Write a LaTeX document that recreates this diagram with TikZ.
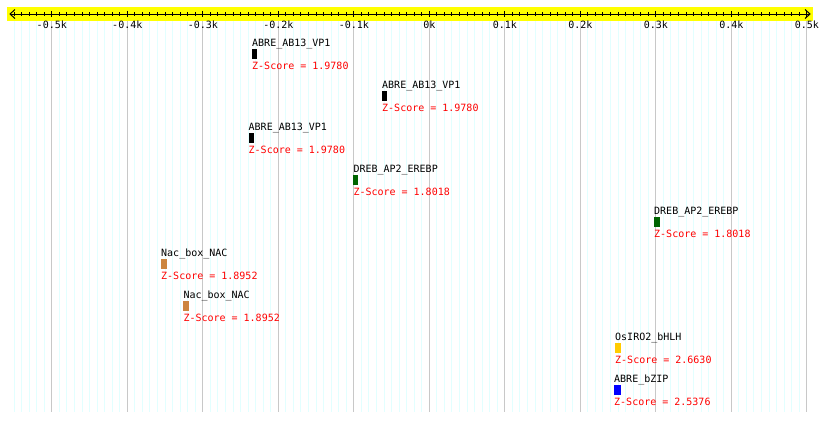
\documentclass[tikz,border=0pt]{standalone}
\usepackage{fontspec}
\setmonofont{DejaVu Sans Mono}
\definecolor{gridcyan}{RGB}{226,255,255}
\definecolor{gridgray}{RGB}{200,200,200}
\definecolor{band}{RGB}{255,255,0}
\definecolor{dgreen}{RGB}{0,100,0}
\definecolor{peru}{RGB}{205,133,63}
\definecolor{goldc}{RGB}{255,204,0}
\definecolor{zred}{RGB}{255,0,0}
\begin{document}
\begin{tikzpicture}[x=1pt,y=-1pt,
  txt/.style={inner sep=0pt,anchor=base west,font=\ttfamily\fontsize{10}{12}\selectfont},
  ticklbl/.style={inner sep=0pt,anchor=base,font=\ttfamily\fontsize{10}{12}\selectfont},
  zlbl/.style={txt,text=zred},
  axisline/.style={line width=1pt,black},
  gridminor/.style={line width=1pt,gridcyan},
  gridmajor/.style={line width=1pt,gridgray}]
\useasboundingbox[fill=white] (0,0) rectangle (820,421);
% grid
\foreach \i in {-55,...,50}{
  \pgfmathsetmacro{\gx}{429.3+7.55*\i}
  \draw[gridminor] (\gx,20.7) -- (\gx,412);
}
\foreach \i in {-5,...,5}{
  \pgfmathsetmacro{\gx}{429.3+75.5*\i}
  \draw[gridmajor] (\gx,20.7) -- (\gx,412);
}
% yellow band
\fill[band] (7,7) rectangle (813,20.7);
% axis
\coordinate (axl) at (10,14);
\coordinate (axr) at (810,14);
\draw[axisline] (axl) -- (axr);
\draw[axisline] ([shift={(5,-4.5)}]axl) -- (axl) -- ([shift={(5,4.5)}]axl);
\draw[axisline] ([shift={(-5,-4.5)}]axr) -- (axr) -- ([shift={(-5,4.5)}]axr);
\foreach \i in {-55,...,50}{
  \pgfmathsetmacro{\gx}{429.3+7.55*\i}
  \draw[axisline] (\gx,12.2) -- (\gx,15.8);
}
\foreach \i/\l in {-5/-0.5k,-4/-0.4k,-3/-0.3k,-2/-0.2k,-1/-0.1k,0/0k,1/0.1k,2/0.2k,3/0.3k,4/0.4k,5/0.5k}{
  \pgfmathsetmacro{\gx}{429.3+75.5*\i}
  \draw[axisline] (\gx,10.8) -- (\gx,17.3);
  \node[ticklbl] (tick\i) at (\gx,28) {\l};
}
% features
\foreach \k/\x/\w/\c/\name/\z in {
  0/252/4.5/black/ABRE\_AB13\_VP1/1.9780,
  1/382/5/black/ABRE\_AB13\_VP1/1.9780,
  2/248.5/5/black/ABRE\_AB13\_VP1/1.9780,
  3/353.3/4.5/dgreen/DREB\_AP2\_EREBP/1.8018,
  4/654/6/dgreen/DREB\_AP2\_EREBP/1.8018,
  5/161/5.5/peru/Nac\_box\_NAC/1.8952,
  6/183.3/5.5/peru/Nac\_box\_NAC/1.8952,
  7/615/5.5/goldc/OsIRO2\_bHLH/2.6630,
  8/614/6.5/blue/ABRE\_bZIP/2.5376}{
  \pgfmathsetmacro{\yb}{46.6+42*\k}
  \pgfmathsetmacro{\yz}{69+42*\k}
  \pgfmathsetmacro{\yt}{49.3+42*\k}
  \pgfmathsetmacro{\ye}{59.3+42*\k}
  \pgfmathsetmacro{\xe}{\x+\w}
  \node[txt] (name\k) at (\x,\yb) {\name};
  \fill[\c] (\x,\yt) rectangle (\xe,\ye);
  \node[zlbl] (z\k) at (\x,\yz) {Z-Score = \z};
}
\end{tikzpicture}
\end{document}
